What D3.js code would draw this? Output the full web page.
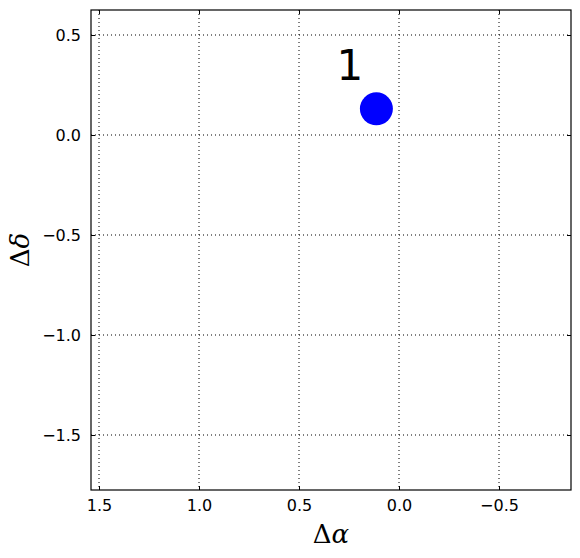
<!DOCTYPE html>
<html>
<head>
<meta charset="utf-8">
<script src="https://d3js.org/d3.v7.min.js"></script>
<style>
  body { margin: 0; background: white; }
  .tick text { font-family: "DejaVu Sans", sans-serif; font-size: 16px; fill: black; }
</style>
</head>
<body>
<div id="chart"></div>
<script>

  // data
  var xDomain = [1.54, -0.86];
  var yDomain = [-1.775, 0.625];
  var xTicks = [1.5, 1.0, 0.5, 0.0, -0.5];
  var yTicks = [0.5, 0.0, -0.5, -1.0, -1.5];
  var pointX = [0.113];
  var pointY = [0.131];
  var pointLabel = ["1"];
  var labelX = [0.246];
  var labelY = [0.277];

  var margin = {top: 10, right: 9, bottom: 68, left: 91},
      width = 580 - margin.left - margin.right,
      height = 558 - margin.top - margin.bottom;

  var svg = d3.select("#chart")
    .append("svg")
      .attr("width", 580)
      .attr("height", 558)
    .append("g")
      .attr("transform", "translate(" + margin.left + "," + margin.top + ")");

  var x = d3.scaleLinear().domain(xDomain).range([0, width]);
  var y = d3.scaleLinear().domain(yDomain).range([height, 0]);

  var fmt = function(d) { return d3.format(".1f")(d).replace("-", "\u2212"); };

  // grid
  svg.append("g").selectAll("line").data(xTicks).enter().append("line")
    .attr("x1", function(d) { return x(d); }).attr("x2", function(d) { return x(d); })
    .attr("y1", 0).attr("y2", height)
    .attr("stroke", "black").attr("stroke-width", 1).attr("stroke-dasharray", "1,3");
  svg.append("g").selectAll("line").data(yTicks).enter().append("line")
    .attr("y1", function(d) { return y(d); }).attr("y2", function(d) { return y(d); })
    .attr("x1", 0).attr("x2", width)
    .attr("stroke", "black").attr("stroke-width", 1).attr("stroke-dasharray", "1,3");

  // axes, ticks inward
  svg.append("g")
    .attr("transform", "translate(0," + height + ")")
    .call(d3.axisBottom(x).tickValues(xTicks).tickFormat(fmt).tickSizeInner(-4).tickSizeOuter(0).tickPadding(10))
    .call(function(g) { g.select(".domain").remove(); });
  svg.append("g")
    .call(d3.axisLeft(y).tickValues(yTicks).tickFormat(fmt).tickSizeInner(-4).tickSizeOuter(0).tickPadding(10))
    .call(function(g) { g.select(".domain").remove(); });
  svg.append("g")
    .call(d3.axisTop(x).tickValues(xTicks).tickFormat("").tickSizeInner(-4).tickSizeOuter(0))
    .call(function(g) { g.select(".domain").remove(); });
  svg.append("g")
    .attr("transform", "translate(" + width + ",0)")
    .call(d3.axisRight(y).tickValues(yTicks).tickFormat("").tickSizeInner(-4).tickSizeOuter(0))
    .call(function(g) { g.select(".domain").remove(); });

  svg.append("rect")
    .attr("width", width).attr("height", height)
    .attr("fill", "none").attr("stroke", "black").attr("stroke-width", 1.2);

  // the point and its label
  svg.append("g").selectAll("circle").data(pointX).enter().append("circle")
    .attr("cx", function(d) { return x(d); })
    .attr("cy", function(d, i) { return y(pointY[i]); })
    .attr("r", 16.5)
    .attr("fill", "blue");
  svg.append("g").selectAll("text").data(pointLabel).enter().append("text")
    .attr("x", function(d, i) { return x(labelX[i]); })
    .attr("y", function(d, i) { return y(labelY[i]); })
    .attr("text-anchor", "middle")
    .style("font-family", "DejaVu Sans, sans-serif")
    .style("font-size", "42px")
    .text(function(d) { return d; });

  // axis labels
  var xl = svg.append("text")
    .attr("x", width / 2)
    .attr("y", height + 53)
    .attr("text-anchor", "middle")
    .style("font-family", "DejaVu Serif, serif")
    .style("font-size", "26px");
  xl.append("tspan").text("\u0394");
  xl.append("tspan").style("font-style", "italic").text("\u03b1");

  var yl = svg.append("text")
    .attr("transform", "translate(-62," + (height / 2) + ") rotate(-90)")
    .attr("text-anchor", "middle")
    .style("font-family", "DejaVu Serif, serif")
    .style("font-size", "26px");
  yl.append("tspan").text("\u0394");
  yl.append("tspan").style("font-style", "italic").text("\u03b4");

</script>
</body>
</html>
